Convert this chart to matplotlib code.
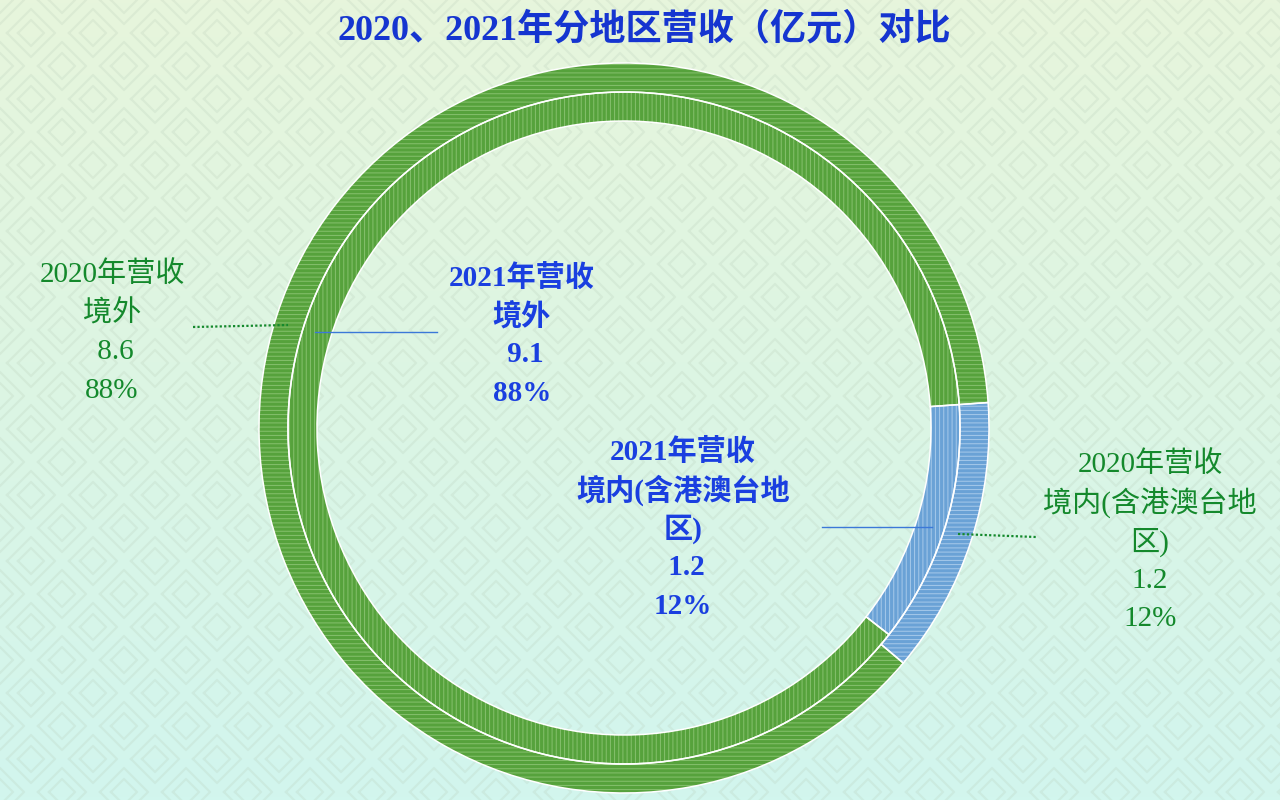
import numpy as np
import matplotlib
matplotlib.use("Agg")
import matplotlib.pyplot as plt
from matplotlib.colors import LinearSegmentedColormap

# data (亿元)
regions = ['境内(含港澳台地区)', '境外']
rev_2020 = [1.2, 8.6]
rev_2021 = [1.2, 9.1]
years = ['2020', '2021']

# colours
green = '#56a23c'
green_hatch = '#86c06e'
blue = '#6aa2d6'
blue_hatch = '#a6c9ea'
txt_green = '#14892c'
txt_blue = '#1a3fe0'
title_blue = '#1535d0'

FONT = ['Liberation Serif', 'Noto Sans CJK SC', 'DejaVu Sans']
plt.rcParams['hatch.linewidth'] = 0.7

fig = plt.figure(figsize=(12.8, 8), dpi=100)
ax = fig.add_axes([0, 0, 1, 1])

# background gradient (top light green -> bottom light cyan)
cmap = LinearSegmentedColormap.from_list('bg', ['#e7f5dc', '#dcf5e4', '#d2f6ee'])
grad = np.linspace(0, 1, 256).reshape(-1, 1)
ax.imshow(grad, cmap=cmap, extent=[0, 1280, 0, 800], aspect='auto', zorder=0)

# faint diamond pattern
for j in range(-1, 27):
    for i in range(-1, 22):
        px = i * 62 + (31 if j % 2 else 0)
        py = 800 - j * 33
        for s in (13, 24):
            ax.plot([px - s, px, px + s, px, px - s], [py, py + s, py, py - s, py],
                    color='#b5c9b5', alpha=0.22, lw=1.6, zorder=1)

cx, cy = 624, 800 - 428

# outer ring = 2020, inner ring = 2021
rings = [(rev_2020, 365, 29, '----'), (rev_2021, 336, 29, '||||')]
for vals, r, w, hatch in rings:
    wedges, _ = ax.pie(vals, radius=r, center=(cx, cy), startangle=4, counterclock=False,
                       colors=[blue, green], wedgeprops=dict(width=w, linewidth=0))
    for wdg in wedges:
        wdg.set_zorder(2)
    hw, _ = ax.pie(vals, radius=r, center=(cx, cy), startangle=4, counterclock=False,
                   colors=['none', 'none'], wedgeprops=dict(width=w, linewidth=0))
    for k, wdg in enumerate(hw):
        wdg.set_hatch(hatch)
        wdg.set_edgecolor(blue_hatch if k == 0 else green_hatch)
        wdg.set_zorder(3)
    # white borders between segments and rings
    ew, _ = ax.pie(vals, radius=r, center=(cx, cy), startangle=4, counterclock=False,
                   colors=['none', 'none'],
                   wedgeprops=dict(width=w, edgecolor='white', linewidth=1.1))
    for wdg in ew:
        wdg.set_zorder(4)

ax.set_xlim(0, 1280)
ax.set_ylim(0, 800)
ax.set_aspect('auto')
ax.axis('off')

# labels
def pct(vals, k):
    return round(vals[k] / sum(vals) * 100)

lab_2020_out = ['2020年营收', '境外', ' ' + str(rev_2020[1]), f'{pct(rev_2020, 1)}%']
lab_2021_out = ['2021年营收', '境外', ' ' + str(rev_2021[1]), f'{pct(rev_2021, 1)}%']
lab_2021_in = ['2021年营收', '境内(含港澳台地', '区)', ' ' + str(rev_2021[0]), f'{pct(rev_2021, 0)}%']
lab_2020_in = ['2020年营收', '境内(含港澳台地', '区)', str(rev_2020[0]), f'{pct(rev_2020, 0)}%']

def put(lines, x, y0, color, weight):
    for n, s in enumerate(lines):
        ax.text(x, 800 - (y0 + n * 38.5), s, ha='center', va='center', fontsize=21,
                color=color, fontweight=weight, family=FONT, zorder=6)

put(lab_2020_out, 112, 275, txt_green, 'normal')
put(lab_2021_out, 522, 278, txt_blue, 'bold')
put(lab_2021_in, 683, 452, txt_blue, 'bold')
put(lab_2020_in, 1150, 465, txt_green, 'normal')

# leader lines
ax.plot([193, 288], [800 - 327, 800 - 325], color=txt_green, lw=1.6, ls=(0, (1, 1)), zorder=5)
ax.plot([315, 437], [800 - 332, 800 - 332], color='#3b78d8', lw=1.0, zorder=5)
ax.plot([822, 932], [800 - 527, 800 - 527], color='#3b78d8', lw=1.0, zorder=5)
ax.plot([958, 1036], [800 - 534, 800 - 537], color=txt_green, lw=1.6, ls=(0, (1, 1)), zorder=5)

ax.text(644, 800 - 30, '2020、2021年分地区营收（亿元）对比', ha='center', va='center',
        fontsize=26, fontweight='bold', color=title_blue, family=FONT, zorder=6)

fig.savefig('out.png', dpi=100)
